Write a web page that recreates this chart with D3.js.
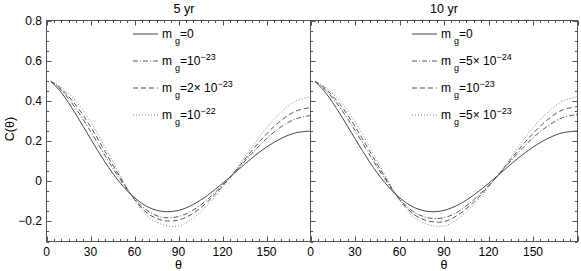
<!DOCTYPE html>
<html>
<head>
<meta charset="utf-8">
<script src="https://cdn.jsdelivr.net/npm/d3@7.9.0/dist/d3.min.js"></script>
<style>
  body { margin: 0; background: #fff; }
  svg { display: block; font-family: "Liberation Sans", Arial, sans-serif; }
  .frame line, .frame path { stroke: #555; }
</style>
</head>
<body>
<svg id="chart" width="581" height="271"></svg>
<script>
// angle grid (degrees)
const theta = [3, 10, 20, 30, 40, 50, 60, 70, 80, 90, 100, 110, 120, 130, 140, 150, 160, 170, 180];

// 5 yr panel
const c5_m0    = [0.497, 0.4425, 0.334, 0.212, 0.094, -0.006, -0.082, -0.131, -0.151, -0.145, -0.116, -0.069, -0.011, 0.052, 0.115, 0.170, 0.213, 0.241, 0.250];
const c5_1e23  = [0.497, 0.454, 0.362, 0.249, 0.127, 0.011, -0.087, -0.153, -0.181, -0.176, -0.144, -0.089, -0.019, 0.058, 0.138, 0.212, 0.271, 0.311, 0.327];
const c5_2e23  = [0.498, 0.460, 0.379, 0.272, 0.147, 0.022, -0.090, -0.166, -0.196, -0.193, -0.160, -0.101, -0.024, 0.062, 0.152, 0.235, 0.303, 0.349, 0.367];
const c5_1e22  = [0.498, 0.468, 0.399, 0.297, 0.169, 0.034, -0.094, -0.181, -0.217, -0.223, -0.184, -0.117, -0.031, 0.067, 0.170, 0.265, 0.343, 0.399, 0.420];

// 10 yr panel
const c10_m0   = [0.497, 0.4425, 0.334, 0.212, 0.094, -0.006, -0.082, -0.131, -0.151, -0.145, -0.116, -0.069, -0.011, 0.052, 0.115, 0.170, 0.213, 0.241, 0.250];
const c10_5e24 = [0.497, 0.455, 0.365, 0.253, 0.130, 0.013, -0.088, -0.155, -0.183, -0.182, -0.149, -0.092, -0.021, 0.059, 0.141, 0.216, 0.275, 0.317, 0.332];
const c10_1e23 = [0.498, 0.461, 0.381, 0.273, 0.148, 0.023, -0.091, -0.167, -0.199, -0.201, -0.165, -0.104, -0.025, 0.063, 0.154, 0.238, 0.307, 0.355, 0.372];
const c10_5e23 = [0.498, 0.468, 0.399, 0.297, 0.169, 0.034, -0.094, -0.181, -0.217, -0.223, -0.184, -0.117, -0.031, 0.067, 0.170, 0.265, 0.343, 0.399, 0.420];

const xTicks = [0, 30, 60, 90, 120, 150];
const yTicks = [0.8, 0.6, 0.4, 0.2, 0, -0.2];

// legend text pieces: [prefix, exponent]
const legend5  = [["0", null], ["10", "\u221223"], ["2\u00d7 10", "\u221223"], ["10", "\u221222"]];
const legend10 = [["0", null], ["5\u00d7 10", "\u221224"], ["10", "\u221223"], ["5\u00d7 10", "\u221223"]];

const styles = [
  { dash: null, color: "#333", width: 0.9 },
  { dash: "5,2,1,2", color: "#444", width: 0.9 },
  { dash: "5,3", color: "#444", width: 0.9 },
  { dash: "1,2", color: "#777", width: 0.9 }
];

const svg = d3.select("#chart");
const plotTop = 20.5, plotBottom = 241.5;

const y = d3.scaleLinear().domain([-0.3, 0.8]).range([plotBottom, plotTop]);

const panels = [
  { title: "5 yr", x0: 46.5, x1: 310.5, series: [c5_m0, c5_1e23, c5_2e23, c5_1e22], legend: legend5, legX: 133, leftLabels: true },
  { title: "10 yr", x0: 310.5, x1: 577.5, series: [c10_m0, c10_5e24, c10_1e23, c10_5e23], legend: legend10, legX: 412, leftLabels: false }
];

panels.forEach(p => {
  const x = d3.scaleLinear().domain([0, 180]).range([p.x0, p.x1]);
  const g = svg.append("g");

  // curves
  const line = d3.line()
    .x((d, i) => x(theta[i]))
    .y(d => y(d))
    .curve(d3.curveCatmullRom);

  p.series.forEach((s, k) => {
    g.append("path")
      .attr("d", line(s))
      .attr("fill", "none")
      .attr("stroke", styles[k].color)
      .attr("stroke-width", styles[k].width)
      .attr("stroke-dasharray", styles[k].dash);
  });

  // frame
  const frame = g.append("g").attr("class", "frame");
  frame.append("rect")
    .attr("x", p.x0).attr("y", plotTop)
    .attr("width", p.x1 - p.x0).attr("height", plotBottom - plotTop)
    .attr("fill", "none").attr("stroke", "#555").attr("stroke-width", 1);

  // x ticks, inward, bottom and top
  const xMinor = d3.range(0, 181, 5);
  xMinor.forEach(t => {
    const len = t % 30 === 0 ? 5 : 2.5;
    const xx = Math.round(x(t)) + 0.5;
    frame.append("line").attr("x1", xx).attr("x2", xx).attr("y1", plotBottom).attr("y2", plotBottom - len).attr("stroke-width", 1);
    frame.append("line").attr("x1", xx).attr("x2", xx).attr("y1", plotTop).attr("y2", plotTop + len).attr("stroke-width", 1);
  });

  // y ticks, inward on left; right axis only on last panel
  const yMinor = d3.range(-0.3, 0.801, 0.05);
  yMinor.forEach(v => {
    const major = Math.abs(Math.round(v * 10) - v * 10) < 1e-6 && Math.round(v * 10) % 2 === 0;
    const len = major ? 5 : 2.5;
    const yy = Math.round(y(v)) + 0.5;
    frame.append("line").attr("x1", p.x0).attr("x2", p.x0 + len).attr("y1", yy).attr("y2", yy).attr("stroke-width", 1);
    if (!p.leftLabels) {
      frame.append("line").attr("x1", p.x1).attr("x2", p.x1 - len).attr("y1", yy).attr("y2", yy).attr("stroke-width", 1);
    }
  });

  // x tick labels
  g.selectAll(".xl").data(xTicks).join("text")
    .attr("x", d => x(d)).attr("y", 256)
    .attr("text-anchor", "middle").attr("font-size", 12).attr("fill", "#000")
    .text(d => d);

  // x title
  g.append("text").attr("x", (p.x0 + p.x1) / 2).attr("y", 269)
    .attr("text-anchor", "middle").attr("font-size", 12.5).attr("fill", "#000")
    .text("\u03b8");

  // panel title
  g.append("text").attr("x", p.leftLabels ? 184 : 444).attr("y", 12.5)
    .attr("text-anchor", "middle").attr("font-size", 12.5).attr("fill", "#000")
    .text(p.title);

  // y tick labels
  if (p.leftLabels) {
    g.selectAll(".yl").data(yTicks).join("text")
      .attr("x", 42).attr("y", d => y(d) + 4)
      .attr("text-anchor", "end").attr("font-size", 12).attr("fill", "#000")
      .text(d => d === 0 ? "0" : (d < 0 ? "\u2212" + Math.abs(d).toFixed(1) : d.toFixed(1)));
  }

  // legend
  p.legend.forEach((lab, k) => {
    const ly = 34 + k * 27;
    g.append("line")
      .attr("x1", p.legX).attr("x2", p.legX + 25)
      .attr("y1", ly).attr("y2", ly)
      .attr("stroke", styles[k].color).attr("stroke-width", styles[k].width)
      .attr("stroke-dasharray", styles[k].dash);
    const t = g.append("text").attr("x", p.legX + 29).attr("y", ly + 4)
      .attr("font-size", 12).attr("fill", "#000");
    t.append("tspan").text("m");
    t.append("tspan").attr("dx", 3).attr("dy", 6).attr("font-size", 9).text("g");
    t.append("tspan").attr("dy", -6).text("=" + lab[0]);
    if (lab[1]) {
      t.append("tspan").attr("dy", -5).attr("font-size", 9).text(lab[1]);
    }
  });
});

// y axis title
svg.append("text")
  .attr("transform", "translate(14,129) rotate(-90)")
  .attr("text-anchor", "middle").attr("font-size", 12.5).attr("fill", "#000")
  .text("C(\u03b8)");
</script>
</body>
</html>
